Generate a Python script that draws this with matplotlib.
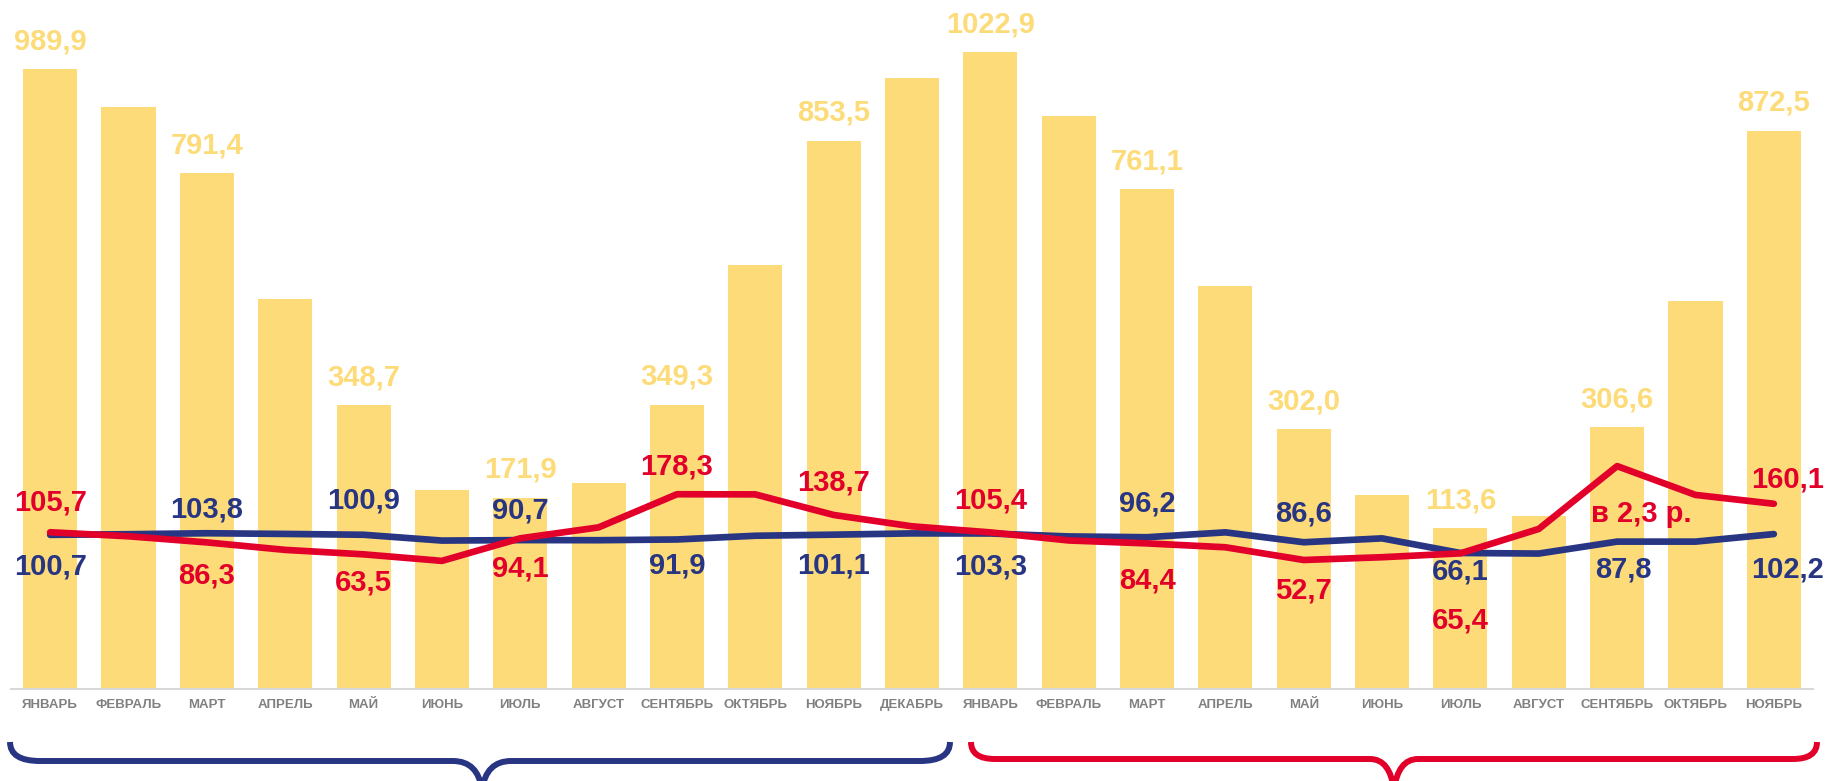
import matplotlib
matplotlib.use('Agg')
import matplotlib.pyplot as plt
import numpy as np
from matplotlib.path import Path
from matplotlib.patches import PathPatch

months = ['ЯНВАРЬ', 'ФЕВРАЛЬ', 'МАРТ', 'АПРЕЛЬ', 'МАЙ', 'ИЮНЬ', 'ИЮЛЬ', 'АВГУСТ',
          'СЕНТЯБРЬ', 'ОКТЯБРЬ', 'НОЯБРЬ', 'ДЕКАБРЬ',
          'ЯНВАРЬ', 'ФЕВРАЛЬ', 'МАРТ', 'АПРЕЛЬ', 'МАЙ', 'ИЮНЬ', 'ИЮЛЬ', 'АВГУСТ',
          'СЕНТЯБРЬ', 'ОКТЯБРЬ', 'НОЯБРЬ']

# bars (only every other one carries a label)
bar_values = [989.9, 918, 791.4, 551, 348.7, 186, 171.9, 200, 349.3, 616, 853.5, 973,
              1022.9, 901, 761.1, 576, 302.0, 177, 113.6, 137, 306.6, 547, 872.5]
bar_labeled = [0, 2, 4, 6, 8, 10, 12, 14, 16, 18, 20, 22]

red_values = [105.7, 98, 86.3, 72, 63.5, 51, 94.1, 115, 178.3, 178, 138.7, 117,
              105.4, 90, 84.4, 77, 52.7, 58, 65.4, 112, 232, 177, 160.1]
blue_values = [100.7, 102, 103.8, 102.5, 100.9, 89.8, 90.7, 90.5, 91.9, 99, 101.1, 103.5,
               103.3, 97.7, 96.2, 105.5, 86.6, 94, 66.1, 65, 87.8, 87.8, 102.2]

# custom text for the peak, the rest is the value itself
red_text = {20: 'в 2,3 р.'}
# offsets of label centres from the point, in pixels (down positive)
red_off = {0: (0, -30), 2: (0, 33), 4: (0, 28), 6: (0, 30), 8: (0, -28), 10: (0, -32),
           12: (0, -32), 14: (0, 37), 16: (0, 31), 18: (0, 67), 20: (24, 48), 22: (14, -24)}
blue_off = {0: (0, 32), 2: (0, -24), 4: (0, -34), 6: (0, -30), 8: (0, 26), 10: (0, 31),
            12: (0, 33), 14: (0, -34), 16: (0, -29), 18: (0, 19), 20: (6, 28), 22: (14, 35)}

BAR_C = '#FCDB78'
RED = '#E2002B'
BLUE = '#283583'
GRAY = '#808080'

plt.rcParams['font.family'] = ['Liberation Sans', 'DejaVu Sans']

W, H = 1831, 781
fig = plt.figure(figsize=(W / 100, H / 100), dpi=100)
base_px = 689
y_min = -193.7
y_max = y_min + base_px * 1.91
ax = fig.add_axes([11 / W, 1 - base_px / H, 1802 / W, base_px / H])

x = np.arange(len(months))
bars = np.array(bar_values)
ax.bar(x, bars - y_min, bottom=y_min, width=0.69, color=BAR_C, zorder=1)
ax.plot(x, blue_values, color=BLUE, lw=4.8, solid_capstyle='round', solid_joinstyle='round', zorder=3)
ax.plot(x, red_values, color=RED, lw=4.8, solid_capstyle='round', solid_joinstyle='round', zorder=4)

def fmt(v):
    return ('%.1f' % v).replace('.', ',')

def put(text, xi, yi, off, color):
    ax.annotate(text, (xi, yi), xytext=(off[0] * 0.72, -off[1] * 0.72), textcoords='offset points',
                ha='center', va='center', fontsize=21, fontweight='bold', color=color, zorder=5)

for i in bar_labeled:
    put(fmt(bar_values[i]), i, bar_values[i], (0, -28), BAR_C)
for i, off in red_off.items():
    t = red_text.get(i) or fmt(red_values[i])
    put(t, i, red_values[i], off, RED)
for i, off in blue_off.items():
    put(fmt(blue_values[i]), i, blue_values[i], off, BLUE)

ax.set_xlim(-0.5, len(months) - 0.5)
ax.set_ylim(y_min, y_max)
ax.set_yticks([])
ax.set_xticks(x, months)
ax.tick_params(axis='x', length=0, pad=7, labelsize=9.5, labelcolor=GRAY)
for lab in ax.get_xticklabels():
    lab.set_fontweight('bold')
for s in ['top', 'left', 'right']:
    ax.spines[s].set_visible(False)
ax.spines['bottom'].set_color('#D9D9D9')
ax.spines['bottom'].set_linewidth(1.5)
ax.spines['bottom'].set_zorder(2)

def brace(x0, x1, xc, ytop, yh, ytip, r, r2, color):
    # curly brace in pixel coords (y down), tip below the figure edge
    pts = [(x0, ytop), (x0, yh), (x0 + r, yh), (xc - r2, yh), (xc - 4, yh), (xc, ytip),
           (xc + 4, yh), (xc + r2, yh), (x1 - r, yh), (x1, yh), (x1, ytop)]
    codes = [Path.MOVETO, Path.CURVE3, Path.CURVE3, Path.LINETO, Path.CURVE3, Path.CURVE3,
             Path.CURVE3, Path.CURVE3, Path.LINETO, Path.CURVE3, Path.CURVE3]
    verts = [(px / W, 1 - py / H) for px, py in pts]
    fig.patches.append(PathPatch(Path(verts, codes), transform=fig.transFigure, fill=False,
                                 edgecolor=color, lw=4.3, capstyle='butt', joinstyle='miter'))

brace(10, 950, 482, 742, 761, 790, 30, 29, BLUE)
brace(971, 1817, 1394, 742, 759, 790, 24, 24, RED)

fig.savefig('out.png', dpi=100)
